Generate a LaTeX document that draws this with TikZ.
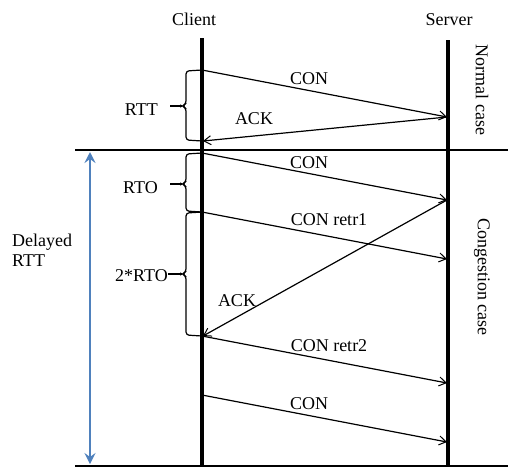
\documentclass[tikz,border=0pt]{standalone}
\usepackage{fontspec}
\setmainfont{Liberation Serif}
\usetikzlibrary{arrows.meta}
\definecolor{rttblue}{HTML}{4F81BD}
\begin{document}
\begin{tikzpicture}[x=1pt,y=-1pt,
  lbl/.style={font=\fontsize{18}{20}\selectfont, inner sep=0pt},
  lifeline/.style={line width=3.2pt},
  sep/.style={line width=1.2pt},
  msg/.style={line width=1.2pt, -{Straight Barb[length=7pt,width=9pt,line width=1pt]}},
  bracepath/.style={line width=1.2pt, rounded corners=3pt},
  dblarrow/.style={rttblue, line width=2.4pt, {Stealth[length=11pt,width=11pt,inset=4pt]}-{Stealth[length=11pt,width=11pt,inset=4pt]}}
]
\useasboundingbox (0,0) rectangle (508,467);

% headers
\node[lbl] (client) at (194,19) {Client};
\node[lbl] (server) at (449,20) {Server};

% lifelines
\coordinate (ctop) at (202,38);
\coordinate (cbot) at (202,467);
\coordinate (stop) at (448,40);
\coordinate (sbot) at (448,467);
\draw[lifeline] (ctop) -- (cbot);
\draw[lifeline] (stop) -- (sbot);

% separators
\coordinate (h1l) at (75,150); \coordinate (h1r) at (508,150);
\coordinate (h2l) at (75,466); \coordinate (h2r) at (508,466);
\draw[sep] (h1l) -- (h1r);
\draw[sep] (h2l) -- (h2r);

% message points
\coordinate (c1) at (202,70);  \coordinate (s1) at (447,117);
\coordinate (c2) at (203,141);
\coordinate (c3) at (202,153); \coordinate (s3) at (447,200);
\coordinate (c4) at (202,212); \coordinate (s4) at (447,259);
\coordinate (c5) at (203,336);
\coordinate (c6) at (202,336); \coordinate (s6) at (447,383);
\coordinate (c7) at (202,395); \coordinate (s7) at (447,442);

\draw[msg] (c1) -- (s1);
\draw[msg] (s1) -- (c2);
\draw[msg] (c3) -- (s3);
\draw[msg] (c4) -- (s4);
\draw[msg] (s3) -- (c5);
\draw[msg] (c6) -- (s6);
\draw[msg] (c7) -- (s7);

% message labels
\node[lbl] (m1) at (309,79) {CON};
\node[lbl] (m2) at (254,119) {ACK};
\node[lbl] (m3) at (309,163) {CON};
\node[lbl] (m4) at (329,220) {CON retr1};
\node[lbl] (m5) at (237,301) {ACK};
\node[lbl] (m6) at (329,346) {CON retr2};
\node[lbl] (m7) at (309,404) {CON};

% braces
\draw[bracepath] (202,70) -- (186,71) -- (186,104) -- (182,106) -- (186,108) -- (186,140) -- (202,141);
\draw[bracepath] (202,153) -- (186,154) -- (186,182) -- (182,184) -- (186,186) -- (186,211) -- (202,212);
\draw[bracepath] (202,212) -- (186,213) -- (186,272) -- (182,274) -- (186,276) -- (186,335) -- (202,336);

\node[lbl, anchor=east] (rtt) at (158,110) {RTT};
\node[lbl, anchor=east] (rto) at (158,188) {RTO};
\node[lbl, anchor=east] (rto2) at (168,276) {2*RTO};
\coordinate (b1) at (182,106);
\coordinate (b2) at (182,184);
\coordinate (b3) at (182,274);
\draw[line width=1.2pt] (170,106) -- (b1);
\draw[line width=1.2pt] (170,184) -- (b2);
\draw[line width=1.2pt] (rto2.east |- b3) -- (b3);

% delayed RTT
\coordinate (da) at (90,152);
\coordinate (db) at (90,464);
\draw[dblarrow] (da) -- (db);
\node[lbl, anchor=west, align=left] (delayed) at (12,250) {Delayed\\RTT};

% side labels
\node[lbl, rotate=-90] (normal) at (482,90) {Normal case};
\node[lbl, rotate=-90] (cong) at (482,277) {Congestion case};
\end{tikzpicture}
\end{document}
